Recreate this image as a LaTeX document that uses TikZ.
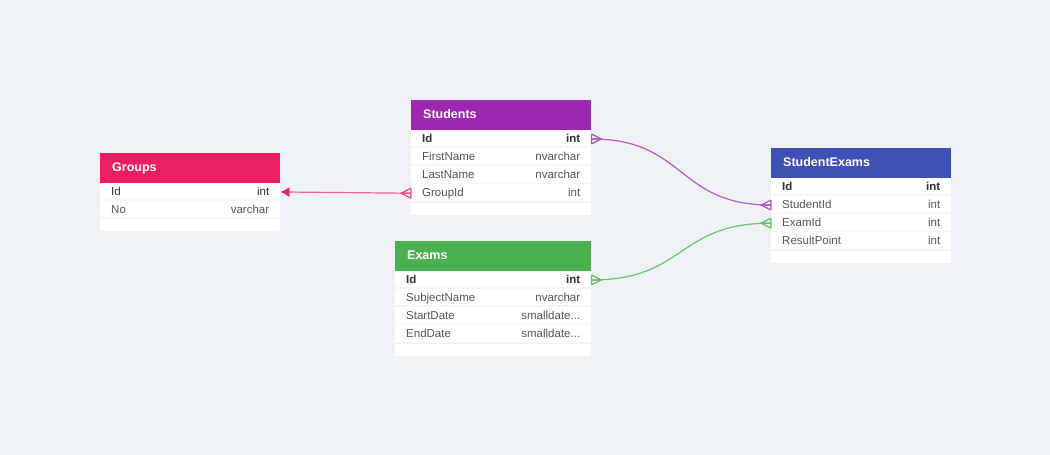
\documentclass[tikz,border=0pt]{standalone}
\usepackage{fontspec}
\setmainfont{Liberation Sans}
\usetikzlibrary{arrows.meta, positioning}
\definecolor{canvas}{RGB}{238,242,245}
\definecolor{rowline}{RGB}{244,246,248}
\definecolor{rowtext}{RGB}{85,85,85}
\definecolor{keytext}{RGB}{51,51,51}
\definecolor{groups color}{HTML}{E91E63}
\definecolor{students color}{HTML}{9C27B0}
\definecolor{exams color}{HTML}{4CAF50}
\definecolor{student exams color}{HTML}{3F51B5}
\tikzstyle{header} = [
    rectangle,
    anchor=north west,
    minimum height=29.5pt,
    inner xsep=12pt,
    inner ysep=0pt,
    text width=156pt,
    align=left,
    text=white,
    text height=10pt,
    text depth=2pt,
    font=\fontsize{12.5}{14}\selectfont\bfseries
]
\tikzstyle{row} = [
    rectangle,
    fill=white,
    minimum height=17.7pt,
    inner xsep=11pt,
    inner ysep=0pt,
    text width=158pt,
    align=left,
    text=rowtext,
    text height=9.5pt,
    text depth=2.5pt,
    font=\fontsize{11.5}{13}\selectfont,
    path picture={%
        \fill [rowline] ([yshift=1.5pt] path picture bounding box.south west)
            rectangle (path picture bounding box.south east);%
    }
]
\tikzstyle{key} = [row, text=keytext, font=\fontsize{11.5}{13}\selectfont\bfseries]
\tikzstyle{tail} = [rectangle, fill=white, minimum height=12pt, inner xsep=11pt, inner ysep=0pt, text width=158pt, text height=0pt, text depth=0pt]
\tikzstyle{link} = [line width=1.2pt]
\tikzset{
    crowsfoot/.pic={
        \draw (0, -5) -- (-10, 0) -- (0, 5)
              (0, -5) -- (0, 5)
              (0, 0) -- (-10, 0);
    }
}

\begin{document}
\begin{tikzpicture}[x=1pt, y=-1pt, node distance=0pt]
    \useasboundingbox [fill=canvas] (0, 0) rectangle (1050, 455);

    % Groups.
    \node (groups) [header, fill=groups color] at (100, 153) {Groups};
    \node (groups id) [row, text=keytext, below=of groups] {Id\hfill int};
    \node (groups no) [row, below=of groups id] {No\hfill varchar};
    \node (groups end) [tail, below=of groups no] {};

    % Students.
    \node (students) [header, fill=students color] at (411, 100) {Students};
    \node (students id) [key, below=of students] {Id\hfill int};
    \node (students first name) [row, below=of students id] {FirstName\hfill nvarchar};
    \node (students last name) [row, below=of students first name] {LastName\hfill nvarchar};
    \node (students group id) [row, below=of students last name] {GroupId\hfill int};
    \node (students end) [tail, below=of students group id] {};

    % Exams.
    \node (exams) [header, fill=exams color, text width=172pt] at (395, 241) {Exams};
    \node (exams id) [key, text width=174pt, below=of exams] {Id\hfill int};
    \node (exams subject name) [row, text width=174pt, below=of exams id] {SubjectName\hfill nvarchar};
    \node (exams start date) [row, text width=174pt, below=of exams subject name] {StartDate\hfill smalldate...};
    \node (exams end date) [row, text width=174pt, below=of exams start date] {EndDate\hfill smalldate...};
    \node (exams end) [tail, text width=174pt, below=of exams end date] {};

    % Student exams.
    \node (student exams) [header, fill=student exams color] at (771, 148) {StudentExams};
    \node (student exams id) [key, below=of student exams] {Id\hfill int};
    \node (student exams student id) [row, below=of student exams id] {StudentId\hfill int};
    \node (student exams exam id) [row, below=of student exams student id] {ExamId\hfill int};
    \node (student exams result point) [row, below=of student exams exam id] {ResultPoint\hfill int};
    \node (student exams end) [tail, below=of student exams result point] {};

    % Paths.
    \draw [link, groups color!70, -{Latex[length=9pt, width=10pt, color=groups color]}]
        (students group id.west) -- (groups id.east);
    \pic [groups color!80, link] at (students group id.west) {crowsfoot};

    \draw [link, students color!75] (students id.east)
        .. controls +(95, 0) and +(-95, 0) .. (student exams student id.west);
    \pic [students color!80, link] at (student exams student id.west) {crowsfoot};
    \pic [students color!80, link, xscale=-1] at (students id.east) {crowsfoot};

    \draw [link, exams color!80] (exams id.east)
        .. controls +(95, 0) and +(-95, 0) .. (student exams exam id.west);
    \pic [exams color!85, link] at (student exams exam id.west) {crowsfoot};
    \pic [exams color!85, link, xscale=-1] at (exams id.east) {crowsfoot};
\end{tikzpicture}
\end{document}
